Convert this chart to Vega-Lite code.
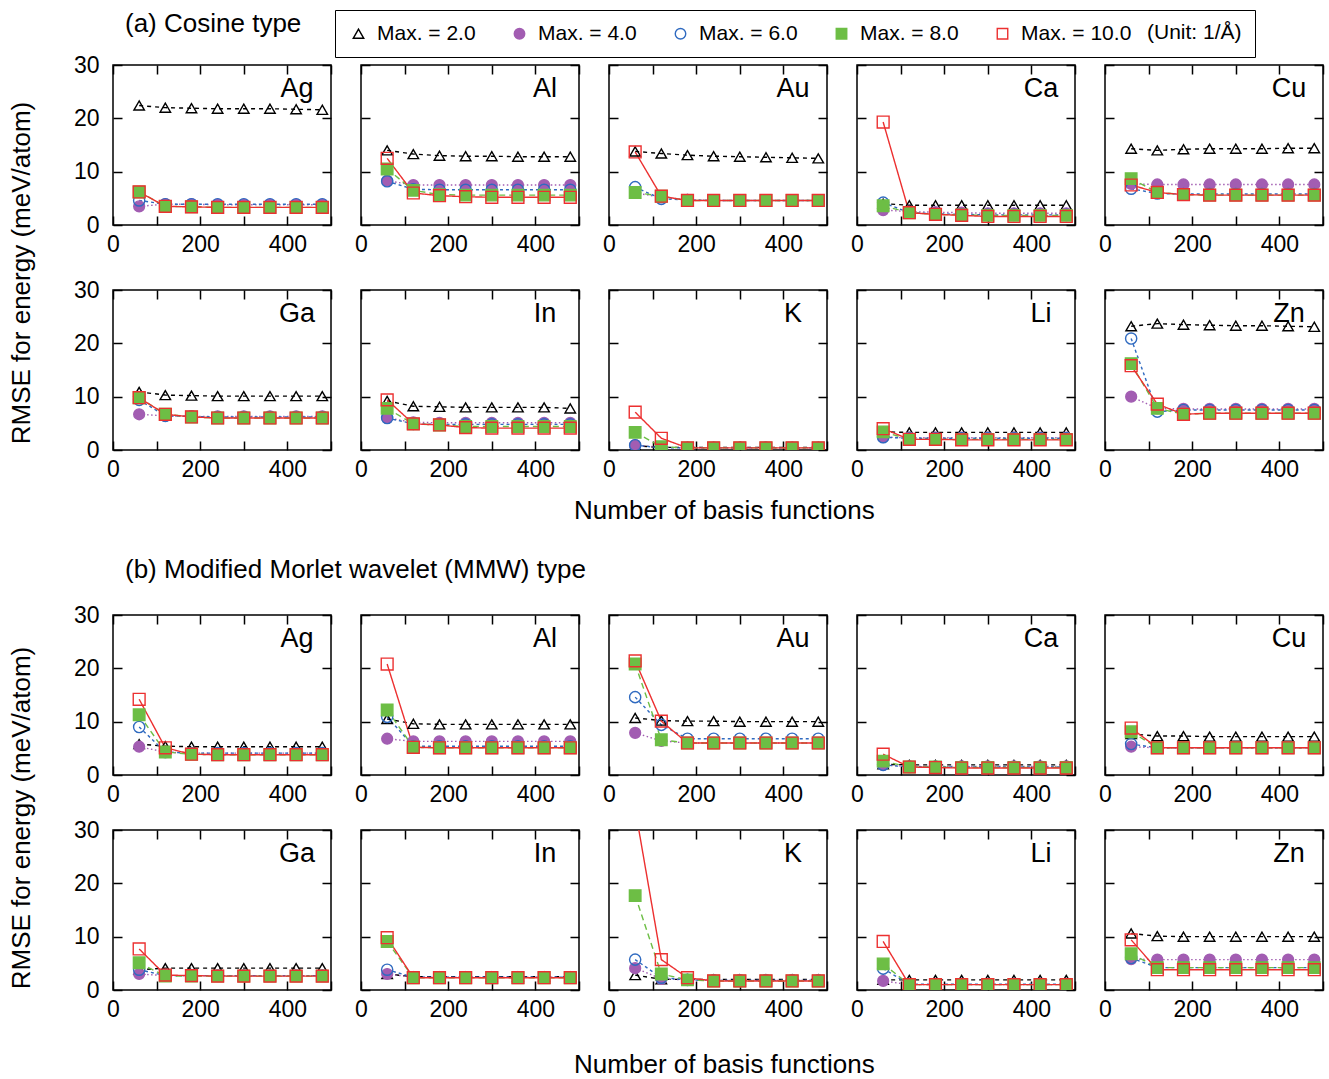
{
"$schema": "https://vega.github.io/schema/vega-lite/v6.json",
"background": "white",
"padding": {"left": 8, "top": 9, "right": 4, "bottom": 2},
"config": {
  "font": "Liberation Sans",
  "view": {"stroke": "black", "strokeWidth": 1.5},
  "title": {"fontSize": 26, "fontWeight": "normal", "color": "black", "font": "Liberation Sans"},
  "axis": {"domain": false, "ticks": false, "tickSize": 0, "grid": true, "gridColor": "black", "gridWidth": 1.5, "gridOpacity": 1, "labelFont": "Liberation Sans", "labelFontSize": 23, "labelColor": "black", "labelFlush": false},
  "axisX": {"values": [0, 100, 200, 300, 400, 500], "gridDash": [9, 142], "labelPadding": 8, "labelExpr": "datum.value % 200 == 0 && datum.value < 500 ? datum.label : ''"},
  "axisY": {"values": [0, 10, 20, 30], "gridDash": [9, 200], "labelPadding": 6},
  "legend": {"labelFontSize": 21, "labelFont": "Liberation Sans", "labelColor": "black", "titleFontSize": 21, "titleFont": "Liberation Sans", "titleFontWeight": "normal", "titleColor": "black"}
},
"datasets": {
"a": [
{"e":"Ag","s":2,"x":60,"y":22.4},{"e":"Ag","s":2,"x":120,"y":22.0},{"e":"Ag","s":2,"x":180,"y":21.9},{"e":"Ag","s":2,"x":240,"y":21.8},{"e":"Ag","s":2,"x":300,"y":21.8},{"e":"Ag","s":2,"x":360,"y":21.8},{"e":"Ag","s":2,"x":420,"y":21.7},{"e":"Ag","s":2,"x":480,"y":21.6},
{"e":"Ag","s":4,"x":60,"y":3.5},{"e":"Ag","s":4,"x":120,"y":3.9},{"e":"Ag","s":4,"x":180,"y":3.9},{"e":"Ag","s":4,"x":240,"y":3.8},{"e":"Ag","s":4,"x":300,"y":3.8},{"e":"Ag","s":4,"x":360,"y":3.8},{"e":"Ag","s":4,"x":420,"y":3.8},{"e":"Ag","s":4,"x":480,"y":3.8},
{"e":"Ag","s":6,"x":60,"y":4.6},{"e":"Ag","s":6,"x":120,"y":3.9},{"e":"Ag","s":6,"x":180,"y":3.9},{"e":"Ag","s":6,"x":240,"y":3.9},{"e":"Ag","s":6,"x":300,"y":3.9},{"e":"Ag","s":6,"x":360,"y":3.9},{"e":"Ag","s":6,"x":420,"y":3.9},{"e":"Ag","s":6,"x":480,"y":3.9},
{"e":"Ag","s":8,"x":60,"y":6.2},{"e":"Ag","s":8,"x":120,"y":3.5},{"e":"Ag","s":8,"x":180,"y":3.4},{"e":"Ag","s":8,"x":240,"y":3.3},{"e":"Ag","s":8,"x":300,"y":3.3},{"e":"Ag","s":8,"x":360,"y":3.3},{"e":"Ag","s":8,"x":420,"y":3.3},{"e":"Ag","s":8,"x":480,"y":3.3},
{"e":"Ag","s":10,"x":60,"y":6.2},{"e":"Ag","s":10,"x":120,"y":3.5},{"e":"Ag","s":10,"x":180,"y":3.4},{"e":"Ag","s":10,"x":240,"y":3.3},{"e":"Ag","s":10,"x":300,"y":3.3},{"e":"Ag","s":10,"x":360,"y":3.3},{"e":"Ag","s":10,"x":420,"y":3.3},{"e":"Ag","s":10,"x":480,"y":3.3},
{"e":"Al","s":2,"x":60,"y":14.0},{"e":"Al","s":2,"x":120,"y":13.3},{"e":"Al","s":2,"x":180,"y":13.0},{"e":"Al","s":2,"x":240,"y":12.9},{"e":"Al","s":2,"x":300,"y":12.9},{"e":"Al","s":2,"x":360,"y":12.8},{"e":"Al","s":2,"x":420,"y":12.8},{"e":"Al","s":2,"x":480,"y":12.8},
{"e":"Al","s":4,"x":60,"y":8.3},{"e":"Al","s":4,"x":120,"y":7.5},{"e":"Al","s":4,"x":180,"y":7.5},{"e":"Al","s":4,"x":240,"y":7.5},{"e":"Al","s":4,"x":300,"y":7.5},{"e":"Al","s":4,"x":360,"y":7.5},{"e":"Al","s":4,"x":420,"y":7.5},{"e":"Al","s":4,"x":480,"y":7.5},
{"e":"Al","s":6,"x":60,"y":8.2},{"e":"Al","s":6,"x":120,"y":6.7},{"e":"Al","s":6,"x":180,"y":6.6},{"e":"Al","s":6,"x":240,"y":6.6},{"e":"Al","s":6,"x":300,"y":6.6},{"e":"Al","s":6,"x":360,"y":6.6},{"e":"Al","s":6,"x":420,"y":6.6},{"e":"Al","s":6,"x":480,"y":6.6},
{"e":"Al","s":8,"x":60,"y":10.5},{"e":"Al","s":8,"x":120,"y":6.5},{"e":"Al","s":8,"x":180,"y":5.7},{"e":"Al","s":8,"x":240,"y":5.6},{"e":"Al","s":8,"x":300,"y":5.6},{"e":"Al","s":8,"x":360,"y":5.6},{"e":"Al","s":8,"x":420,"y":5.6},{"e":"Al","s":8,"x":480,"y":5.6},
{"e":"Al","s":10,"x":60,"y":12.5},{"e":"Al","s":10,"x":120,"y":6.0},{"e":"Al","s":10,"x":180,"y":5.5},{"e":"Al","s":10,"x":240,"y":5.3},{"e":"Al","s":10,"x":300,"y":5.2},{"e":"Al","s":10,"x":360,"y":5.2},{"e":"Al","s":10,"x":420,"y":5.2},{"e":"Al","s":10,"x":480,"y":5.2},
{"e":"Au","s":2,"x":60,"y":13.8},{"e":"Au","s":2,"x":120,"y":13.4},{"e":"Au","s":2,"x":180,"y":13.1},{"e":"Au","s":2,"x":240,"y":12.9},{"e":"Au","s":2,"x":300,"y":12.8},{"e":"Au","s":2,"x":360,"y":12.7},{"e":"Au","s":2,"x":420,"y":12.6},{"e":"Au","s":2,"x":480,"y":12.5},
{"e":"Au","s":4,"x":60,"y":6.0},{"e":"Au","s":4,"x":120,"y":5.2},{"e":"Au","s":4,"x":180,"y":4.7},{"e":"Au","s":4,"x":240,"y":4.6},{"e":"Au","s":4,"x":300,"y":4.6},{"e":"Au","s":4,"x":360,"y":4.6},{"e":"Au","s":4,"x":420,"y":4.6},{"e":"Au","s":4,"x":480,"y":4.6},
{"e":"Au","s":6,"x":60,"y":7.1},{"e":"Au","s":6,"x":120,"y":4.9},{"e":"Au","s":6,"x":180,"y":4.7},{"e":"Au","s":6,"x":240,"y":4.6},{"e":"Au","s":6,"x":300,"y":4.6},{"e":"Au","s":6,"x":360,"y":4.6},{"e":"Au","s":6,"x":420,"y":4.6},{"e":"Au","s":6,"x":480,"y":4.6},
{"e":"Au","s":8,"x":60,"y":6.1},{"e":"Au","s":8,"x":120,"y":5.4},{"e":"Au","s":8,"x":180,"y":4.6},{"e":"Au","s":8,"x":240,"y":4.6},{"e":"Au","s":8,"x":300,"y":4.6},{"e":"Au","s":8,"x":360,"y":4.6},{"e":"Au","s":8,"x":420,"y":4.6},{"e":"Au","s":8,"x":480,"y":4.6},
{"e":"Au","s":10,"x":60,"y":13.7},{"e":"Au","s":10,"x":120,"y":5.4},{"e":"Au","s":10,"x":180,"y":4.6},{"e":"Au","s":10,"x":240,"y":4.6},{"e":"Au","s":10,"x":300,"y":4.6},{"e":"Au","s":10,"x":360,"y":4.6},{"e":"Au","s":10,"x":420,"y":4.6},{"e":"Au","s":10,"x":480,"y":4.6},
{"e":"Ca","s":2,"x":60,"y":4.0},{"e":"Ca","s":2,"x":120,"y":3.7},{"e":"Ca","s":2,"x":180,"y":3.7},{"e":"Ca","s":2,"x":240,"y":3.7},{"e":"Ca","s":2,"x":300,"y":3.7},{"e":"Ca","s":2,"x":360,"y":3.7},{"e":"Ca","s":2,"x":420,"y":3.7},{"e":"Ca","s":2,"x":480,"y":3.7},
{"e":"Ca","s":4,"x":60,"y":2.8},{"e":"Ca","s":4,"x":120,"y":2.5},{"e":"Ca","s":4,"x":180,"y":2.4},{"e":"Ca","s":4,"x":240,"y":2.3},{"e":"Ca","s":4,"x":300,"y":2.2},{"e":"Ca","s":4,"x":360,"y":2.2},{"e":"Ca","s":4,"x":420,"y":2.2},{"e":"Ca","s":4,"x":480,"y":2.2},
{"e":"Ca","s":6,"x":60,"y":4.2},{"e":"Ca","s":6,"x":120,"y":2.3},{"e":"Ca","s":6,"x":180,"y":2.1},{"e":"Ca","s":6,"x":240,"y":2.0},{"e":"Ca","s":6,"x":300,"y":1.9},{"e":"Ca","s":6,"x":360,"y":1.9},{"e":"Ca","s":6,"x":420,"y":1.9},{"e":"Ca","s":6,"x":480,"y":1.9},
{"e":"Ca","s":8,"x":60,"y":3.6},{"e":"Ca","s":8,"x":120,"y":2.3},{"e":"Ca","s":8,"x":180,"y":2.0},{"e":"Ca","s":8,"x":240,"y":1.9},{"e":"Ca","s":8,"x":300,"y":1.8},{"e":"Ca","s":8,"x":360,"y":1.8},{"e":"Ca","s":8,"x":420,"y":1.8},{"e":"Ca","s":8,"x":480,"y":1.8},
{"e":"Ca","s":10,"x":60,"y":19.3},{"e":"Ca","s":10,"x":120,"y":2.3},{"e":"Ca","s":10,"x":180,"y":2.0},{"e":"Ca","s":10,"x":240,"y":1.8},{"e":"Ca","s":10,"x":300,"y":1.6},{"e":"Ca","s":10,"x":360,"y":1.6},{"e":"Ca","s":10,"x":420,"y":1.6},{"e":"Ca","s":10,"x":480,"y":1.6},
{"e":"Cu","s":2,"x":60,"y":14.3},{"e":"Cu","s":2,"x":120,"y":14.0},{"e":"Cu","s":2,"x":180,"y":14.2},{"e":"Cu","s":2,"x":240,"y":14.3},{"e":"Cu","s":2,"x":300,"y":14.3},{"e":"Cu","s":2,"x":360,"y":14.3},{"e":"Cu","s":2,"x":420,"y":14.4},{"e":"Cu","s":2,"x":480,"y":14.4},
{"e":"Cu","s":4,"x":60,"y":7.7},{"e":"Cu","s":4,"x":120,"y":7.6},{"e":"Cu","s":4,"x":180,"y":7.6},{"e":"Cu","s":4,"x":240,"y":7.6},{"e":"Cu","s":4,"x":300,"y":7.6},{"e":"Cu","s":4,"x":360,"y":7.6},{"e":"Cu","s":4,"x":420,"y":7.6},{"e":"Cu","s":4,"x":480,"y":7.6},
{"e":"Cu","s":6,"x":60,"y":6.8},{"e":"Cu","s":6,"x":120,"y":5.9},{"e":"Cu","s":6,"x":180,"y":5.8},{"e":"Cu","s":6,"x":240,"y":5.8},{"e":"Cu","s":6,"x":300,"y":5.8},{"e":"Cu","s":6,"x":360,"y":5.8},{"e":"Cu","s":6,"x":420,"y":5.8},{"e":"Cu","s":6,"x":480,"y":5.8},
{"e":"Cu","s":8,"x":60,"y":8.7},{"e":"Cu","s":8,"x":120,"y":6.1},{"e":"Cu","s":8,"x":180,"y":5.7},{"e":"Cu","s":8,"x":240,"y":5.6},{"e":"Cu","s":8,"x":300,"y":5.6},{"e":"Cu","s":8,"x":360,"y":5.6},{"e":"Cu","s":8,"x":420,"y":5.6},{"e":"Cu","s":8,"x":480,"y":5.6},
{"e":"Cu","s":10,"x":60,"y":7.5},{"e":"Cu","s":10,"x":120,"y":6.1},{"e":"Cu","s":10,"x":180,"y":5.7},{"e":"Cu","s":10,"x":240,"y":5.6},{"e":"Cu","s":10,"x":300,"y":5.6},{"e":"Cu","s":10,"x":360,"y":5.6},{"e":"Cu","s":10,"x":420,"y":5.6},{"e":"Cu","s":10,"x":480,"y":5.6},
{"e":"Ga","s":2,"x":60,"y":10.9},{"e":"Ga","s":2,"x":120,"y":10.3},{"e":"Ga","s":2,"x":180,"y":10.2},{"e":"Ga","s":2,"x":240,"y":10.1},{"e":"Ga","s":2,"x":300,"y":10.1},{"e":"Ga","s":2,"x":360,"y":10.1},{"e":"Ga","s":2,"x":420,"y":10.1},{"e":"Ga","s":2,"x":480,"y":10.1},
{"e":"Ga","s":4,"x":60,"y":6.7},{"e":"Ga","s":4,"x":120,"y":6.4},{"e":"Ga","s":4,"x":180,"y":6.3},{"e":"Ga","s":4,"x":240,"y":6.3},{"e":"Ga","s":4,"x":300,"y":6.3},{"e":"Ga","s":4,"x":360,"y":6.3},{"e":"Ga","s":4,"x":420,"y":6.3},{"e":"Ga","s":4,"x":480,"y":6.3},
{"e":"Ga","s":6,"x":60,"y":9.4},{"e":"Ga","s":6,"x":120,"y":6.4},{"e":"Ga","s":6,"x":180,"y":6.3},{"e":"Ga","s":6,"x":240,"y":6.2},{"e":"Ga","s":6,"x":300,"y":6.2},{"e":"Ga","s":6,"x":360,"y":6.2},{"e":"Ga","s":6,"x":420,"y":6.2},{"e":"Ga","s":6,"x":480,"y":6.2},
{"e":"Ga","s":8,"x":60,"y":9.8},{"e":"Ga","s":8,"x":120,"y":6.7},{"e":"Ga","s":8,"x":180,"y":6.2},{"e":"Ga","s":8,"x":240,"y":6.0},{"e":"Ga","s":8,"x":300,"y":6.0},{"e":"Ga","s":8,"x":360,"y":6.0},{"e":"Ga","s":8,"x":420,"y":6.0},{"e":"Ga","s":8,"x":480,"y":6.0},
{"e":"Ga","s":10,"x":60,"y":9.8},{"e":"Ga","s":10,"x":120,"y":6.7},{"e":"Ga","s":10,"x":180,"y":6.2},{"e":"Ga","s":10,"x":240,"y":6.0},{"e":"Ga","s":10,"x":300,"y":6.0},{"e":"Ga","s":10,"x":360,"y":6.0},{"e":"Ga","s":10,"x":420,"y":6.0},{"e":"Ga","s":10,"x":480,"y":6.0},
{"e":"In","s":2,"x":60,"y":9.2},{"e":"In","s":2,"x":120,"y":8.2},{"e":"In","s":2,"x":180,"y":8.1},{"e":"In","s":2,"x":240,"y":8.0},{"e":"In","s":2,"x":300,"y":8.0},{"e":"In","s":2,"x":360,"y":8.0},{"e":"In","s":2,"x":420,"y":8.0},{"e":"In","s":2,"x":480,"y":7.8},
{"e":"In","s":4,"x":60,"y":6.0},{"e":"In","s":4,"x":120,"y":5.2},{"e":"In","s":4,"x":180,"y":5.1},{"e":"In","s":4,"x":240,"y":5.1},{"e":"In","s":4,"x":300,"y":5.1},{"e":"In","s":4,"x":360,"y":5.1},{"e":"In","s":4,"x":420,"y":5.1},{"e":"In","s":4,"x":480,"y":5.1},
{"e":"In","s":6,"x":60,"y":6.0},{"e":"In","s":6,"x":120,"y":4.9},{"e":"In","s":6,"x":180,"y":4.8},{"e":"In","s":6,"x":240,"y":4.8},{"e":"In","s":6,"x":300,"y":4.8},{"e":"In","s":6,"x":360,"y":4.8},{"e":"In","s":6,"x":420,"y":4.8},{"e":"In","s":6,"x":480,"y":4.8},
{"e":"In","s":8,"x":60,"y":7.8},{"e":"In","s":8,"x":120,"y":4.9},{"e":"In","s":8,"x":180,"y":4.7},{"e":"In","s":8,"x":240,"y":4.4},{"e":"In","s":8,"x":300,"y":4.4},{"e":"In","s":8,"x":360,"y":4.4},{"e":"In","s":8,"x":420,"y":4.4},{"e":"In","s":8,"x":480,"y":4.4},
{"e":"In","s":10,"x":60,"y":9.4},{"e":"In","s":10,"x":120,"y":4.9},{"e":"In","s":10,"x":180,"y":4.7},{"e":"In","s":10,"x":240,"y":4.2},{"e":"In","s":10,"x":300,"y":4.1},{"e":"In","s":10,"x":360,"y":4.1},{"e":"In","s":10,"x":420,"y":4.1},{"e":"In","s":10,"x":480,"y":4.1},
{"e":"K","s":2,"x":60,"y":0.8},{"e":"K","s":2,"x":120,"y":0.5},{"e":"K","s":2,"x":180,"y":0.5},{"e":"K","s":2,"x":240,"y":0.5},{"e":"K","s":2,"x":300,"y":0.5},{"e":"K","s":2,"x":360,"y":0.5},{"e":"K","s":2,"x":420,"y":0.5},{"e":"K","s":2,"x":480,"y":0.5},
{"e":"K","s":4,"x":60,"y":0.9},{"e":"K","s":4,"x":120,"y":0.5},{"e":"K","s":4,"x":180,"y":0.4},{"e":"K","s":4,"x":240,"y":0.4},{"e":"K","s":4,"x":300,"y":0.4},{"e":"K","s":4,"x":360,"y":0.4},{"e":"K","s":4,"x":420,"y":0.4},{"e":"K","s":4,"x":480,"y":0.4},
{"e":"K","s":6,"x":60,"y":0.9},{"e":"K","s":6,"x":120,"y":0.4},{"e":"K","s":6,"x":180,"y":0.4},{"e":"K","s":6,"x":240,"y":0.4},{"e":"K","s":6,"x":300,"y":0.4},{"e":"K","s":6,"x":360,"y":0.4},{"e":"K","s":6,"x":420,"y":0.4},{"e":"K","s":6,"x":480,"y":0.4},
{"e":"K","s":8,"x":60,"y":3.3},{"e":"K","s":8,"x":120,"y":0.6},{"e":"K","s":8,"x":180,"y":0.4},{"e":"K","s":8,"x":240,"y":0.4},{"e":"K","s":8,"x":300,"y":0.4},{"e":"K","s":8,"x":360,"y":0.4},{"e":"K","s":8,"x":420,"y":0.4},{"e":"K","s":8,"x":480,"y":0.4},
{"e":"K","s":10,"x":60,"y":7.1},{"e":"K","s":10,"x":120,"y":2.2},{"e":"K","s":10,"x":180,"y":0.4},{"e":"K","s":10,"x":240,"y":0.4},{"e":"K","s":10,"x":300,"y":0.4},{"e":"K","s":10,"x":360,"y":0.4},{"e":"K","s":10,"x":420,"y":0.4},{"e":"K","s":10,"x":480,"y":0.4},
{"e":"Li","s":2,"x":60,"y":3.4},{"e":"Li","s":2,"x":120,"y":3.3},{"e":"Li","s":2,"x":180,"y":3.3},{"e":"Li","s":2,"x":240,"y":3.3},{"e":"Li","s":2,"x":300,"y":3.3},{"e":"Li","s":2,"x":360,"y":3.3},{"e":"Li","s":2,"x":420,"y":3.3},{"e":"Li","s":2,"x":480,"y":3.3},
{"e":"Li","s":4,"x":60,"y":2.4},{"e":"Li","s":4,"x":120,"y":2.3},{"e":"Li","s":4,"x":180,"y":2.3},{"e":"Li","s":4,"x":240,"y":2.3},{"e":"Li","s":4,"x":300,"y":2.3},{"e":"Li","s":4,"x":360,"y":2.3},{"e":"Li","s":4,"x":420,"y":2.3},{"e":"Li","s":4,"x":480,"y":2.3},
{"e":"Li","s":6,"x":60,"y":2.4},{"e":"Li","s":6,"x":120,"y":2.2},{"e":"Li","s":6,"x":180,"y":2.2},{"e":"Li","s":6,"x":240,"y":2.2},{"e":"Li","s":6,"x":300,"y":2.2},{"e":"Li","s":6,"x":360,"y":2.2},{"e":"Li","s":6,"x":420,"y":2.2},{"e":"Li","s":6,"x":480,"y":2.2},
{"e":"Li","s":8,"x":60,"y":3.4},{"e":"Li","s":8,"x":120,"y":2.0},{"e":"Li","s":8,"x":180,"y":2.0},{"e":"Li","s":8,"x":240,"y":2.0},{"e":"Li","s":8,"x":300,"y":2.0},{"e":"Li","s":8,"x":360,"y":2.0},{"e":"Li","s":8,"x":420,"y":2.0},{"e":"Li","s":8,"x":480,"y":2.0},
{"e":"Li","s":10,"x":60,"y":4.0},{"e":"Li","s":10,"x":120,"y":2.0},{"e":"Li","s":10,"x":180,"y":2.0},{"e":"Li","s":10,"x":240,"y":1.9},{"e":"Li","s":10,"x":300,"y":1.9},{"e":"Li","s":10,"x":360,"y":1.9},{"e":"Li","s":10,"x":420,"y":1.9},{"e":"Li","s":10,"x":480,"y":1.9},
{"e":"Zn","s":2,"x":60,"y":23.2},{"e":"Zn","s":2,"x":120,"y":23.7},{"e":"Zn","s":2,"x":180,"y":23.5},{"e":"Zn","s":2,"x":240,"y":23.4},{"e":"Zn","s":2,"x":300,"y":23.3},{"e":"Zn","s":2,"x":360,"y":23.3},{"e":"Zn","s":2,"x":420,"y":23.2},{"e":"Zn","s":2,"x":480,"y":23.1},
{"e":"Zn","s":4,"x":60,"y":10.0},{"e":"Zn","s":4,"x":120,"y":7.8},{"e":"Zn","s":4,"x":180,"y":7.7},{"e":"Zn","s":4,"x":240,"y":7.7},{"e":"Zn","s":4,"x":300,"y":7.7},{"e":"Zn","s":4,"x":360,"y":7.7},{"e":"Zn","s":4,"x":420,"y":7.7},{"e":"Zn","s":4,"x":480,"y":7.7},
{"e":"Zn","s":6,"x":60,"y":20.9},{"e":"Zn","s":6,"x":120,"y":7.2},{"e":"Zn","s":6,"x":180,"y":7.5},{"e":"Zn","s":6,"x":240,"y":7.5},{"e":"Zn","s":6,"x":300,"y":7.5},{"e":"Zn","s":6,"x":360,"y":7.5},{"e":"Zn","s":6,"x":420,"y":7.5},{"e":"Zn","s":6,"x":480,"y":7.5},
{"e":"Zn","s":8,"x":60,"y":16.2},{"e":"Zn","s":8,"x":120,"y":7.8},{"e":"Zn","s":8,"x":180,"y":6.7},{"e":"Zn","s":8,"x":240,"y":6.9},{"e":"Zn","s":8,"x":300,"y":6.9},{"e":"Zn","s":8,"x":360,"y":6.9},{"e":"Zn","s":8,"x":420,"y":6.9},{"e":"Zn","s":8,"x":480,"y":6.9},
{"e":"Zn","s":10,"x":60,"y":15.8},{"e":"Zn","s":10,"x":120,"y":8.6},{"e":"Zn","s":10,"x":180,"y":6.7},{"e":"Zn","s":10,"x":240,"y":6.9},{"e":"Zn","s":10,"x":300,"y":6.9},{"e":"Zn","s":10,"x":360,"y":6.9},{"e":"Zn","s":10,"x":420,"y":6.9},{"e":"Zn","s":10,"x":480,"y":6.9}
],
"b": [
{"e":"Ag","s":2,"x":60,"y":5.8},{"e":"Ag","s":2,"x":120,"y":5.4},{"e":"Ag","s":2,"x":180,"y":5.3},{"e":"Ag","s":2,"x":240,"y":5.3},{"e":"Ag","s":2,"x":300,"y":5.3},{"e":"Ag","s":2,"x":360,"y":5.3},{"e":"Ag","s":2,"x":420,"y":5.3},{"e":"Ag","s":2,"x":480,"y":5.3},
{"e":"Ag","s":4,"x":60,"y":5.3},{"e":"Ag","s":4,"x":120,"y":4.3},{"e":"Ag","s":4,"x":180,"y":4.1},{"e":"Ag","s":4,"x":240,"y":4.1},{"e":"Ag","s":4,"x":300,"y":4.1},{"e":"Ag","s":4,"x":360,"y":4.1},{"e":"Ag","s":4,"x":420,"y":4.1},{"e":"Ag","s":4,"x":480,"y":4.1},
{"e":"Ag","s":6,"x":60,"y":9.0},{"e":"Ag","s":6,"x":120,"y":4.3},{"e":"Ag","s":6,"x":180,"y":4.1},{"e":"Ag","s":6,"x":240,"y":4.1},{"e":"Ag","s":6,"x":300,"y":4.1},{"e":"Ag","s":6,"x":360,"y":4.1},{"e":"Ag","s":6,"x":420,"y":4.1},{"e":"Ag","s":6,"x":480,"y":4.1},
{"e":"Ag","s":8,"x":60,"y":11.3},{"e":"Ag","s":8,"x":120,"y":4.3},{"e":"Ag","s":8,"x":180,"y":3.9},{"e":"Ag","s":8,"x":240,"y":3.8},{"e":"Ag","s":8,"x":300,"y":3.8},{"e":"Ag","s":8,"x":360,"y":3.8},{"e":"Ag","s":8,"x":420,"y":3.8},{"e":"Ag","s":8,"x":480,"y":3.8},
{"e":"Ag","s":10,"x":60,"y":14.2},{"e":"Ag","s":10,"x":120,"y":5.1},{"e":"Ag","s":10,"x":180,"y":3.9},{"e":"Ag","s":10,"x":240,"y":3.8},{"e":"Ag","s":10,"x":300,"y":3.8},{"e":"Ag","s":10,"x":360,"y":3.8},{"e":"Ag","s":10,"x":420,"y":3.8},{"e":"Ag","s":10,"x":480,"y":3.8},
{"e":"Al","s":2,"x":60,"y":10.5},{"e":"Al","s":2,"x":120,"y":9.6},{"e":"Al","s":2,"x":180,"y":9.5},{"e":"Al","s":2,"x":240,"y":9.5},{"e":"Al","s":2,"x":300,"y":9.5},{"e":"Al","s":2,"x":360,"y":9.5},{"e":"Al","s":2,"x":420,"y":9.5},{"e":"Al","s":2,"x":480,"y":9.5},
{"e":"Al","s":4,"x":60,"y":6.8},{"e":"Al","s":4,"x":120,"y":6.3},{"e":"Al","s":4,"x":180,"y":6.3},{"e":"Al","s":4,"x":240,"y":6.3},{"e":"Al","s":4,"x":300,"y":6.3},{"e":"Al","s":4,"x":360,"y":6.3},{"e":"Al","s":4,"x":420,"y":6.3},{"e":"Al","s":4,"x":480,"y":6.3},
{"e":"Al","s":6,"x":60,"y":10.9},{"e":"Al","s":6,"x":120,"y":5.4},{"e":"Al","s":6,"x":180,"y":5.4},{"e":"Al","s":6,"x":240,"y":5.4},{"e":"Al","s":6,"x":300,"y":5.4},{"e":"Al","s":6,"x":360,"y":5.4},{"e":"Al","s":6,"x":420,"y":5.4},{"e":"Al","s":6,"x":480,"y":5.4},
{"e":"Al","s":8,"x":60,"y":12.2},{"e":"Al","s":8,"x":120,"y":5.2},{"e":"Al","s":8,"x":180,"y":5.1},{"e":"Al","s":8,"x":240,"y":5.1},{"e":"Al","s":8,"x":300,"y":5.1},{"e":"Al","s":8,"x":360,"y":5.1},{"e":"Al","s":8,"x":420,"y":5.1},{"e":"Al","s":8,"x":480,"y":5.1},
{"e":"Al","s":10,"x":60,"y":20.8},{"e":"Al","s":10,"x":120,"y":5.2},{"e":"Al","s":10,"x":180,"y":5.1},{"e":"Al","s":10,"x":240,"y":5.1},{"e":"Al","s":10,"x":300,"y":5.1},{"e":"Al","s":10,"x":360,"y":5.1},{"e":"Al","s":10,"x":420,"y":5.1},{"e":"Al","s":10,"x":480,"y":5.1},
{"e":"Au","s":2,"x":60,"y":10.7},{"e":"Au","s":2,"x":120,"y":10.2},{"e":"Au","s":2,"x":180,"y":10.1},{"e":"Au","s":2,"x":240,"y":10.1},{"e":"Au","s":2,"x":300,"y":10.0},{"e":"Au","s":2,"x":360,"y":10.0},{"e":"Au","s":2,"x":420,"y":10.0},{"e":"Au","s":2,"x":480,"y":10.0},
{"e":"Au","s":4,"x":60,"y":7.9},{"e":"Au","s":4,"x":120,"y":6.4},{"e":"Au","s":4,"x":180,"y":6.0},{"e":"Au","s":4,"x":240,"y":6.0},{"e":"Au","s":4,"x":300,"y":6.0},{"e":"Au","s":4,"x":360,"y":6.0},{"e":"Au","s":4,"x":420,"y":6.0},{"e":"Au","s":4,"x":480,"y":6.0},
{"e":"Au","s":6,"x":60,"y":14.6},{"e":"Au","s":6,"x":120,"y":9.4},{"e":"Au","s":6,"x":180,"y":6.8},{"e":"Au","s":6,"x":240,"y":6.8},{"e":"Au","s":6,"x":300,"y":6.8},{"e":"Au","s":6,"x":360,"y":6.8},{"e":"Au","s":6,"x":420,"y":6.8},{"e":"Au","s":6,"x":480,"y":6.8},
{"e":"Au","s":8,"x":60,"y":20.8},{"e":"Au","s":8,"x":120,"y":6.6},{"e":"Au","s":8,"x":180,"y":6.0},{"e":"Au","s":8,"x":240,"y":6.0},{"e":"Au","s":8,"x":300,"y":6.0},{"e":"Au","s":8,"x":360,"y":6.0},{"e":"Au","s":8,"x":420,"y":6.0},{"e":"Au","s":8,"x":480,"y":6.0},
{"e":"Au","s":10,"x":60,"y":21.4},{"e":"Au","s":10,"x":120,"y":10.1},{"e":"Au","s":10,"x":180,"y":6.0},{"e":"Au","s":10,"x":240,"y":6.0},{"e":"Au","s":10,"x":300,"y":6.0},{"e":"Au","s":10,"x":360,"y":6.0},{"e":"Au","s":10,"x":420,"y":6.0},{"e":"Au","s":10,"x":480,"y":6.0},
{"e":"Ca","s":2,"x":60,"y":2.0},{"e":"Ca","s":2,"x":120,"y":1.9},{"e":"Ca","s":2,"x":180,"y":1.9},{"e":"Ca","s":2,"x":240,"y":1.9},{"e":"Ca","s":2,"x":300,"y":1.9},{"e":"Ca","s":2,"x":360,"y":1.9},{"e":"Ca","s":2,"x":420,"y":1.9},{"e":"Ca","s":2,"x":480,"y":1.9},
{"e":"Ca","s":4,"x":60,"y":1.9},{"e":"Ca","s":4,"x":120,"y":1.6},{"e":"Ca","s":4,"x":180,"y":1.6},{"e":"Ca","s":4,"x":240,"y":1.6},{"e":"Ca","s":4,"x":300,"y":1.6},{"e":"Ca","s":4,"x":360,"y":1.6},{"e":"Ca","s":4,"x":420,"y":1.6},{"e":"Ca","s":4,"x":480,"y":1.6},
{"e":"Ca","s":6,"x":60,"y":1.9},{"e":"Ca","s":6,"x":120,"y":1.5},{"e":"Ca","s":6,"x":180,"y":1.5},{"e":"Ca","s":6,"x":240,"y":1.5},{"e":"Ca","s":6,"x":300,"y":1.5},{"e":"Ca","s":6,"x":360,"y":1.5},{"e":"Ca","s":6,"x":420,"y":1.5},{"e":"Ca","s":6,"x":480,"y":1.5},
{"e":"Ca","s":8,"x":60,"y":2.6},{"e":"Ca","s":8,"x":120,"y":1.5},{"e":"Ca","s":8,"x":180,"y":1.5},{"e":"Ca","s":8,"x":240,"y":1.4},{"e":"Ca","s":8,"x":300,"y":1.4},{"e":"Ca","s":8,"x":360,"y":1.4},{"e":"Ca","s":8,"x":420,"y":1.4},{"e":"Ca","s":8,"x":480,"y":1.4},
{"e":"Ca","s":10,"x":60,"y":3.9},{"e":"Ca","s":10,"x":120,"y":1.5},{"e":"Ca","s":10,"x":180,"y":1.4},{"e":"Ca","s":10,"x":240,"y":1.3},{"e":"Ca","s":10,"x":300,"y":1.3},{"e":"Ca","s":10,"x":360,"y":1.3},{"e":"Ca","s":10,"x":420,"y":1.3},{"e":"Ca","s":10,"x":480,"y":1.3},
{"e":"Cu","s":2,"x":60,"y":7.7},{"e":"Cu","s":2,"x":120,"y":7.3},{"e":"Cu","s":2,"x":180,"y":7.3},{"e":"Cu","s":2,"x":240,"y":7.2},{"e":"Cu","s":2,"x":300,"y":7.2},{"e":"Cu","s":2,"x":360,"y":7.2},{"e":"Cu","s":2,"x":420,"y":7.2},{"e":"Cu","s":2,"x":480,"y":7.2},
{"e":"Cu","s":4,"x":60,"y":5.3},{"e":"Cu","s":4,"x":120,"y":5.1},{"e":"Cu","s":4,"x":180,"y":5.1},{"e":"Cu","s":4,"x":240,"y":5.1},{"e":"Cu","s":4,"x":300,"y":5.1},{"e":"Cu","s":4,"x":360,"y":5.1},{"e":"Cu","s":4,"x":420,"y":5.1},{"e":"Cu","s":4,"x":480,"y":5.1},
{"e":"Cu","s":6,"x":60,"y":5.8},{"e":"Cu","s":6,"x":120,"y":5.1},{"e":"Cu","s":6,"x":180,"y":5.1},{"e":"Cu","s":6,"x":240,"y":5.1},{"e":"Cu","s":6,"x":300,"y":5.1},{"e":"Cu","s":6,"x":360,"y":5.1},{"e":"Cu","s":6,"x":420,"y":5.1},{"e":"Cu","s":6,"x":480,"y":5.1},
{"e":"Cu","s":8,"x":60,"y":8.1},{"e":"Cu","s":8,"x":120,"y":5.1},{"e":"Cu","s":8,"x":180,"y":5.1},{"e":"Cu","s":8,"x":240,"y":5.1},{"e":"Cu","s":8,"x":300,"y":5.1},{"e":"Cu","s":8,"x":360,"y":5.1},{"e":"Cu","s":8,"x":420,"y":5.1},{"e":"Cu","s":8,"x":480,"y":5.1},
{"e":"Cu","s":10,"x":60,"y":8.8},{"e":"Cu","s":10,"x":120,"y":5.1},{"e":"Cu","s":10,"x":180,"y":5.1},{"e":"Cu","s":10,"x":240,"y":5.1},{"e":"Cu","s":10,"x":300,"y":5.1},{"e":"Cu","s":10,"x":360,"y":5.1},{"e":"Cu","s":10,"x":420,"y":5.1},{"e":"Cu","s":10,"x":480,"y":5.1},
{"e":"Ga","s":2,"x":60,"y":3.8},{"e":"Ga","s":2,"x":120,"y":4.1},{"e":"Ga","s":2,"x":180,"y":4.1},{"e":"Ga","s":2,"x":240,"y":4.1},{"e":"Ga","s":2,"x":300,"y":4.1},{"e":"Ga","s":2,"x":360,"y":4.1},{"e":"Ga","s":2,"x":420,"y":4.1},{"e":"Ga","s":2,"x":480,"y":4.1},
{"e":"Ga","s":4,"x":60,"y":3.0},{"e":"Ga","s":4,"x":120,"y":2.7},{"e":"Ga","s":4,"x":180,"y":2.7},{"e":"Ga","s":4,"x":240,"y":2.7},{"e":"Ga","s":4,"x":300,"y":2.7},{"e":"Ga","s":4,"x":360,"y":2.7},{"e":"Ga","s":4,"x":420,"y":2.7},{"e":"Ga","s":4,"x":480,"y":2.7},
{"e":"Ga","s":6,"x":60,"y":3.8},{"e":"Ga","s":6,"x":120,"y":2.7},{"e":"Ga","s":6,"x":180,"y":2.7},{"e":"Ga","s":6,"x":240,"y":2.7},{"e":"Ga","s":6,"x":300,"y":2.7},{"e":"Ga","s":6,"x":360,"y":2.7},{"e":"Ga","s":6,"x":420,"y":2.7},{"e":"Ga","s":6,"x":480,"y":2.7},
{"e":"Ga","s":8,"x":60,"y":5.1},{"e":"Ga","s":8,"x":120,"y":2.6},{"e":"Ga","s":8,"x":180,"y":2.6},{"e":"Ga","s":8,"x":240,"y":2.6},{"e":"Ga","s":8,"x":300,"y":2.6},{"e":"Ga","s":8,"x":360,"y":2.6},{"e":"Ga","s":8,"x":420,"y":2.6},{"e":"Ga","s":8,"x":480,"y":2.6},
{"e":"Ga","s":10,"x":60,"y":7.7},{"e":"Ga","s":10,"x":120,"y":2.8},{"e":"Ga","s":10,"x":180,"y":2.7},{"e":"Ga","s":10,"x":240,"y":2.6},{"e":"Ga","s":10,"x":300,"y":2.6},{"e":"Ga","s":10,"x":360,"y":2.6},{"e":"Ga","s":10,"x":420,"y":2.6},{"e":"Ga","s":10,"x":480,"y":2.6},
{"e":"In","s":2,"x":60,"y":3.0},{"e":"In","s":2,"x":120,"y":2.5},{"e":"In","s":2,"x":180,"y":2.5},{"e":"In","s":2,"x":240,"y":2.5},{"e":"In","s":2,"x":300,"y":2.5},{"e":"In","s":2,"x":360,"y":2.5},{"e":"In","s":2,"x":420,"y":2.5},{"e":"In","s":2,"x":480,"y":2.5},
{"e":"In","s":4,"x":60,"y":3.0},{"e":"In","s":4,"x":120,"y":2.4},{"e":"In","s":4,"x":180,"y":2.4},{"e":"In","s":4,"x":240,"y":2.4},{"e":"In","s":4,"x":300,"y":2.4},{"e":"In","s":4,"x":360,"y":2.4},{"e":"In","s":4,"x":420,"y":2.4},{"e":"In","s":4,"x":480,"y":2.4},
{"e":"In","s":6,"x":60,"y":3.8},{"e":"In","s":6,"x":120,"y":2.4},{"e":"In","s":6,"x":180,"y":2.4},{"e":"In","s":6,"x":240,"y":2.4},{"e":"In","s":6,"x":300,"y":2.4},{"e":"In","s":6,"x":360,"y":2.4},{"e":"In","s":6,"x":420,"y":2.4},{"e":"In","s":6,"x":480,"y":2.4},
{"e":"In","s":8,"x":60,"y":9.1},{"e":"In","s":8,"x":120,"y":2.3},{"e":"In","s":8,"x":180,"y":2.3},{"e":"In","s":8,"x":240,"y":2.3},{"e":"In","s":8,"x":300,"y":2.3},{"e":"In","s":8,"x":360,"y":2.3},{"e":"In","s":8,"x":420,"y":2.3},{"e":"In","s":8,"x":480,"y":2.3},
{"e":"In","s":10,"x":60,"y":9.8},{"e":"In","s":10,"x":120,"y":2.3},{"e":"In","s":10,"x":180,"y":2.3},{"e":"In","s":10,"x":240,"y":2.3},{"e":"In","s":10,"x":300,"y":2.3},{"e":"In","s":10,"x":360,"y":2.3},{"e":"In","s":10,"x":420,"y":2.3},{"e":"In","s":10,"x":480,"y":2.3},
{"e":"K","s":2,"x":60,"y":2.8},{"e":"K","s":2,"x":120,"y":2.0},{"e":"K","s":2,"x":180,"y":2.0},{"e":"K","s":2,"x":240,"y":2.0},{"e":"K","s":2,"x":300,"y":2.0},{"e":"K","s":2,"x":360,"y":2.0},{"e":"K","s":2,"x":420,"y":2.0},{"e":"K","s":2,"x":480,"y":2.0},
{"e":"K","s":4,"x":60,"y":4.1},{"e":"K","s":4,"x":120,"y":2.1},{"e":"K","s":4,"x":180,"y":1.9},{"e":"K","s":4,"x":240,"y":1.8},{"e":"K","s":4,"x":300,"y":1.8},{"e":"K","s":4,"x":360,"y":1.8},{"e":"K","s":4,"x":420,"y":1.8},{"e":"K","s":4,"x":480,"y":1.8},
{"e":"K","s":6,"x":60,"y":5.7},{"e":"K","s":6,"x":120,"y":2.3},{"e":"K","s":6,"x":180,"y":1.9},{"e":"K","s":6,"x":240,"y":1.8},{"e":"K","s":6,"x":300,"y":1.8},{"e":"K","s":6,"x":360,"y":1.8},{"e":"K","s":6,"x":420,"y":1.8},{"e":"K","s":6,"x":480,"y":1.8},
{"e":"K","s":8,"x":60,"y":17.7},{"e":"K","s":8,"x":120,"y":3.0},{"e":"K","s":8,"x":180,"y":1.9},{"e":"K","s":8,"x":240,"y":1.7},{"e":"K","s":8,"x":300,"y":1.7},{"e":"K","s":8,"x":360,"y":1.7},{"e":"K","s":8,"x":420,"y":1.7},{"e":"K","s":8,"x":480,"y":1.7},
{"e":"K","s":10,"x":60,"y":34.0},{"e":"K","s":10,"x":120,"y":5.7},{"e":"K","s":10,"x":180,"y":2.3},{"e":"K","s":10,"x":240,"y":1.7},{"e":"K","s":10,"x":300,"y":1.7},{"e":"K","s":10,"x":360,"y":1.7},{"e":"K","s":10,"x":420,"y":1.7},{"e":"K","s":10,"x":480,"y":1.7},
{"e":"Li","s":2,"x":60,"y":1.9},{"e":"Li","s":2,"x":120,"y":1.9},{"e":"Li","s":2,"x":180,"y":1.9},{"e":"Li","s":2,"x":240,"y":1.9},{"e":"Li","s":2,"x":300,"y":1.9},{"e":"Li","s":2,"x":360,"y":1.9},{"e":"Li","s":2,"x":420,"y":1.9},{"e":"Li","s":2,"x":480,"y":1.9},
{"e":"Li","s":4,"x":60,"y":1.7},{"e":"Li","s":4,"x":120,"y":1.0},{"e":"Li","s":4,"x":180,"y":1.0},{"e":"Li","s":4,"x":240,"y":1.0},{"e":"Li","s":4,"x":300,"y":1.0},{"e":"Li","s":4,"x":360,"y":1.0},{"e":"Li","s":4,"x":420,"y":1.0},{"e":"Li","s":4,"x":480,"y":1.0},
{"e":"Li","s":6,"x":60,"y":4.0},{"e":"Li","s":6,"x":120,"y":1.1},{"e":"Li","s":6,"x":180,"y":1.1},{"e":"Li","s":6,"x":240,"y":1.1},{"e":"Li","s":6,"x":300,"y":1.1},{"e":"Li","s":6,"x":360,"y":1.1},{"e":"Li","s":6,"x":420,"y":1.1},{"e":"Li","s":6,"x":480,"y":1.1},
{"e":"Li","s":8,"x":60,"y":4.9},{"e":"Li","s":8,"x":120,"y":1.0},{"e":"Li","s":8,"x":180,"y":1.0},{"e":"Li","s":8,"x":240,"y":1.0},{"e":"Li","s":8,"x":300,"y":1.0},{"e":"Li","s":8,"x":360,"y":1.0},{"e":"Li","s":8,"x":420,"y":1.0},{"e":"Li","s":8,"x":480,"y":1.0},
{"e":"Li","s":10,"x":60,"y":9.1},{"e":"Li","s":10,"x":120,"y":1.0},{"e":"Li","s":10,"x":180,"y":1.0},{"e":"Li","s":10,"x":240,"y":1.0},{"e":"Li","s":10,"x":300,"y":1.0},{"e":"Li","s":10,"x":360,"y":1.0},{"e":"Li","s":10,"x":420,"y":1.0},{"e":"Li","s":10,"x":480,"y":1.0},
{"e":"Zn","s":2,"x":60,"y":10.6},{"e":"Zn","s":2,"x":120,"y":10.1},{"e":"Zn","s":2,"x":180,"y":10.0},{"e":"Zn","s":2,"x":240,"y":10.0},{"e":"Zn","s":2,"x":300,"y":10.0},{"e":"Zn","s":2,"x":360,"y":10.0},{"e":"Zn","s":2,"x":420,"y":10.0},{"e":"Zn","s":2,"x":480,"y":10.0},
{"e":"Zn","s":4,"x":60,"y":5.8},{"e":"Zn","s":4,"x":120,"y":5.7},{"e":"Zn","s":4,"x":180,"y":5.7},{"e":"Zn","s":4,"x":240,"y":5.7},{"e":"Zn","s":4,"x":300,"y":5.7},{"e":"Zn","s":4,"x":360,"y":5.7},{"e":"Zn","s":4,"x":420,"y":5.7},{"e":"Zn","s":4,"x":480,"y":5.7},
{"e":"Zn","s":6,"x":60,"y":6.0},{"e":"Zn","s":6,"x":120,"y":4.2},{"e":"Zn","s":6,"x":180,"y":4.2},{"e":"Zn","s":6,"x":240,"y":4.2},{"e":"Zn","s":6,"x":300,"y":4.2},{"e":"Zn","s":6,"x":360,"y":4.2},{"e":"Zn","s":6,"x":420,"y":4.2},{"e":"Zn","s":6,"x":480,"y":4.2},
{"e":"Zn","s":8,"x":60,"y":6.8},{"e":"Zn","s":8,"x":120,"y":4.2},{"e":"Zn","s":8,"x":180,"y":4.2},{"e":"Zn","s":8,"x":240,"y":4.2},{"e":"Zn","s":8,"x":300,"y":4.2},{"e":"Zn","s":8,"x":360,"y":4.2},{"e":"Zn","s":8,"x":420,"y":4.2},{"e":"Zn","s":8,"x":480,"y":4.2},
{"e":"Zn","s":10,"x":60,"y":9.4},{"e":"Zn","s":10,"x":120,"y":3.8},{"e":"Zn","s":10,"x":180,"y":3.8},{"e":"Zn","s":10,"x":240,"y":3.8},{"e":"Zn","s":10,"x":300,"y":3.8},{"e":"Zn","s":10,"x":360,"y":3.8},{"e":"Zn","s":10,"x":420,"y":3.8},{"e":"Zn","s":10,"x":480,"y":3.8}
]
},
"spacing": 33,
"vconcat": [
{
  "title": {"text": "Number of basis functions", "orient": "bottom", "anchor": "middle", "dx": 58, "offset": 16},
  "vconcat": [
  {
    "data": {"name": "a"},
    "title": {"text": "(a) Cosine type", "anchor": "start", "dx": 116, "offset": 17},
    "facet": {"field": "e", "type": "nominal", "header": {"title": "RMSE for energy (meV/atom)", "titleOrient": "left", "titleAngle": 270, "labels": false, "labelExpr": "''", "labelFontSize": 1, "labelPadding": 0, "titleFontSize": 26, "titleFontWeight": "normal", "titleColor": "black", "titleFont": "Liberation Sans", "titlePadding": 12}},
    "columns": 5,
    "spacing": {"row": 31, "column": 21},
    "resolve": {"axis": {"x": "independent"}},
    "spec": {
      "width": 218, "height": 160,
      "layer": [
        {"mark": {"type": "line", "strokeWidth": 1.4, "clip": true},
         "encoding": {
           "x": {"field": "x", "type": "quantitative", "scale": {"domain": [0, 500]}, "axis": {"title": null}},
           "y": {"field": "y", "type": "quantitative", "scale": {"domain": [0, 30]}, "axis": {"title": null}},
           "stroke": {"field": "s", "type": "nominal", "scale": {"domain": [2, 4, 6, 8, 10], "range": ["#000000", "#a25db2", "#2f6ac0", "#6dbe45", "#ec3030"]}, "title": "(Unit: 1/Å)"},
           "strokeDash": {"field": "s", "type": "nominal", "scale": {"domain": [10, 8, 6, 4, 2], "range": [[1, 0], [6, 4], [3, 3], [1.5, 2.5], [4, 4]]}, "legend": null}
         }},
        {"mark": {"type": "point", "opacity": 1, "strokeWidth": 1.4, "clip": true},
         "encoding": {
           "x": {"field": "x", "type": "quantitative"},
           "y": {"field": "y", "type": "quantitative"},
           "shape": {"field": "s", "type": "nominal", "scale": {"domain": [2, 4, 6, 8, 10], "range": ["triangle-up", "circle", "circle", "square", "square"]}, "title": "(Unit: 1/Å)", "legend": {"orient": "none", "legendX": 222, "legendY": -55, "direction": "horizontal", "columns": 5, "strokeColor": "black", "padding": 13, "fillColor": "white", "titleOrient": "right", "titlePadding": 16, "symbolStrokeWidth": 1.4, "symbolSize": 110, "columnPadding": 33, "labelOffset": 8, "labelExpr": "'Max. = ' + format(datum.value, '.1f')"}},
           "fill": {"field": "s", "type": "nominal", "scale": {"domain": [2, 4, 6, 8, 10], "range": ["transparent", "#a25db2", "transparent", "#6dbe45", "transparent"]}, "title": "(Unit: 1/Å)"},
           "stroke": {"field": "s", "type": "nominal", "title": "(Unit: 1/Å)"},
           "size": {"field": "s", "type": "ordinal", "scale": {"domain": [10, 8, 6, 4, 2], "range": [140, 110, 100, 90, 100]}, "legend": null}
         }},
        {"transform": [{"filter": "datum.s == 2 && datum.x == 60"}],
         "mark": {"type": "text", "fontSize": 27, "align": "center", "baseline": "alphabetic", "color": "black"},
         "encoding": {"x": {"datum": 422}, "y": {"datum": 24}, "text": {"field": "e"}}}
      ]
    }
  }
  ]
},
{
  "title": {"text": "Number of basis functions", "orient": "bottom", "anchor": "middle", "dx": 58, "offset": 30},
  "vconcat": [
  {
    "data": {"name": "b"},
    "title": {"text": "(b) Modified Morlet wavelet (MMW) type", "anchor": "start", "dx": 116, "offset": 21},
    "facet": {"field": "e", "type": "nominal", "header": {"title": "RMSE for energy (meV/atom)", "titleOrient": "left", "titleAngle": 270, "labels": false, "labelExpr": "''", "labelFontSize": 1, "labelPadding": 0, "titleFontSize": 26, "titleFontWeight": "normal", "titleColor": "black", "titleFont": "Liberation Sans", "titlePadding": 12}},
    "columns": 5,
    "spacing": {"row": 21, "column": 21},
    "resolve": {"axis": {"x": "independent"}},
    "spec": {
      "width": 218, "height": 160,
      "layer": [
        {"mark": {"type": "line", "strokeWidth": 1.4, "clip": true},
         "encoding": {
           "x": {"field": "x", "type": "quantitative", "scale": {"domain": [0, 500]}, "axis": {"title": null}},
           "y": {"field": "y", "type": "quantitative", "scale": {"domain": [0, 30]}, "axis": {"title": null}},
           "stroke": {"field": "s", "type": "nominal", "scale": {"domain": [2, 4, 6, 8, 10], "range": ["#000000", "#a25db2", "#2f6ac0", "#6dbe45", "#ec3030"]}, "title": "(Unit: 1/Å)"},
           "strokeDash": {"field": "s", "type": "nominal", "scale": {"domain": [10, 8, 6, 4, 2], "range": [[1, 0], [6, 4], [3, 3], [1.5, 2.5], [4, 4]]}, "legend": null}
         }},
        {"mark": {"type": "point", "opacity": 1, "strokeWidth": 1.4, "clip": true},
         "encoding": {
           "x": {"field": "x", "type": "quantitative"},
           "y": {"field": "y", "type": "quantitative"},
           "shape": {"field": "s", "type": "nominal", "scale": {"domain": [2, 4, 6, 8, 10], "range": ["triangle-up", "circle", "circle", "square", "square"]}, "title": "(Unit: 1/Å)", "legend": {"orient": "none", "legendX": 222, "legendY": -55, "direction": "horizontal", "columns": 5, "strokeColor": "black", "padding": 13, "fillColor": "white", "titleOrient": "right", "titlePadding": 16, "symbolStrokeWidth": 1.4, "symbolSize": 110, "columnPadding": 33, "labelOffset": 8, "labelExpr": "'Max. = ' + format(datum.value, '.1f')"}},
           "fill": {"field": "s", "type": "nominal", "scale": {"domain": [2, 4, 6, 8, 10], "range": ["transparent", "#a25db2", "transparent", "#6dbe45", "transparent"]}, "title": "(Unit: 1/Å)"},
           "stroke": {"field": "s", "type": "nominal", "title": "(Unit: 1/Å)"},
           "size": {"field": "s", "type": "ordinal", "scale": {"domain": [10, 8, 6, 4, 2], "range": [140, 110, 100, 90, 100]}, "legend": null}
         }},
        {"transform": [{"filter": "datum.s == 2 && datum.x == 60"}],
         "mark": {"type": "text", "fontSize": 27, "align": "center", "baseline": "alphabetic", "color": "black"},
         "encoding": {"x": {"datum": 422}, "y": {"datum": 24}, "text": {"field": "e"}}}
      ]
    }
  }
  ]
}
]
}
